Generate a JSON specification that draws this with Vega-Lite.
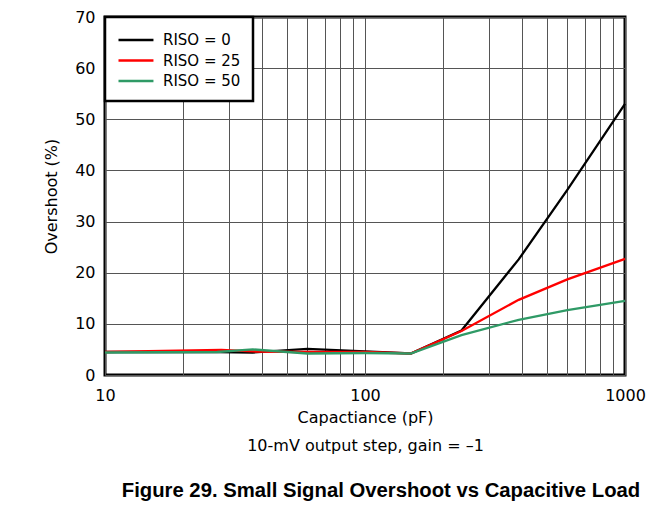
{
  "$schema": "https://vega.github.io/schema/vega-lite/v6.json",
  "width": 520,
  "height": 358,
  "autosize": {"type": "none"},
  "padding": {"left": 105, "top": 17, "right": 44, "bottom": 133},
  "background": "white",
  "config": {
    "font": "DejaVu Sans",
    "view": {"stroke": "black", "strokeWidth": 3}
  },
  "data": {
    "values": [
      {"C": 10, "V": 4.5, "s": "RISO = 0"},
      {"C": 27, "V": 4.5, "s": "RISO = 0"},
      {"C": 37, "V": 4.4, "s": "RISO = 0"},
      {"C": 60, "V": 5.1, "s": "RISO = 0"},
      {"C": 100, "V": 4.6, "s": "RISO = 0"},
      {"C": 150, "V": 4.2, "s": "RISO = 0"},
      {"C": 235, "V": 8.7, "s": "RISO = 0"},
      {"C": 390, "V": 22.6, "s": "RISO = 0"},
      {"C": 600, "V": 36.2, "s": "RISO = 0"},
      {"C": 1000, "V": 53, "s": "RISO = 0"},
      {"C": 10, "V": 4.5, "s": "RISO = 25"},
      {"C": 28, "V": 4.9, "s": "RISO = 25"},
      {"C": 37, "V": 4.6, "s": "RISO = 25"},
      {"C": 60, "V": 4.5, "s": "RISO = 25"},
      {"C": 100, "V": 4.5, "s": "RISO = 25"},
      {"C": 150, "V": 4.2, "s": "RISO = 25"},
      {"C": 235, "V": 8.6, "s": "RISO = 25"},
      {"C": 390, "V": 14.7, "s": "RISO = 25"},
      {"C": 600, "V": 18.7, "s": "RISO = 25"},
      {"C": 1000, "V": 22.7, "s": "RISO = 25"},
      {"C": 10, "V": 4.4, "s": "RISO = 50"},
      {"C": 27, "V": 4.5, "s": "RISO = 50"},
      {"C": 37, "V": 5.0, "s": "RISO = 50"},
      {"C": 60, "V": 4.2, "s": "RISO = 50"},
      {"C": 100, "V": 4.3, "s": "RISO = 50"},
      {"C": 150, "V": 4.2, "s": "RISO = 50"},
      {"C": 235, "V": 7.8, "s": "RISO = 50"},
      {"C": 390, "V": 10.8, "s": "RISO = 50"},
      {"C": 600, "V": 12.7, "s": "RISO = 50"},
      {"C": 1000, "V": 14.5, "s": "RISO = 50"}
    ]
  },
  "mark": {"type": "line", "strokeWidth": 2.3},
  "encoding": {
    "x": {
      "field": "C",
      "type": "quantitative",
      "scale": {"type": "log", "domain": [10, 1000]},
      "axis": {
        "title": ["Capactiance (pF)", "10-mV output step, gain = –1"],
        "values": [10, 20, 30, 40, 50, 60, 70, 80, 90, 100, 200, 300, 400, 500, 600, 700, 800, 900, 1000],
        "format": "d",
        "labelExpr": "(datum.value == 10 || datum.value == 100 || datum.value == 1000) ? datum.label : ''",
        "grid": true,
        "gridColor": "#555555",
        "gridOpacity": 1,
        "gridWidth": 1,
        "ticks": false,
        "domain": false,
        "labelOverlap": false,
        "labelFlush": false,
        "labelFontSize": 16,
        "labelColor": "black",
        "labelPadding": 12,
        "titleFontSize": 16,
        "titleFontWeight": "normal",
        "titleColor": "black",
        "titleLineHeight": 28,
        "titlePadding": 6
      }
    },
    "y": {
      "field": "V",
      "type": "quantitative",
      "scale": {"domain": [0, 70], "nice": false},
      "axis": {
        "title": "Overshoot (%)",
        "values": [0, 10, 20, 30, 40, 50, 60, 70],
        "grid": true,
        "gridColor": "#555555",
        "gridOpacity": 1,
        "gridWidth": 1,
        "ticks": false,
        "domain": false,
        "labelFlush": false,
        "labelFontSize": 16,
        "labelColor": "black",
        "labelPadding": 10,
        "titleFontSize": 16,
        "titleFontWeight": "normal",
        "titleColor": "black",
        "titlePadding": 15
      }
    },
    "color": {
      "field": "s",
      "type": "nominal",
      "scale": {
        "domain": ["RISO = 0", "RISO = 25", "RISO = 50"],
        "range": ["#000000", "#ff0000", "#2f9a66"]
      },
      "legend": {
        "title": null,
        "orient": "top-left",
        "offset": 0,
        "strokeColor": "black",
        "fillColor": "white",
        "padding": 12,
        "symbolType": "M-1,0H2.68",
        "symbolSize": 361,
        "symbolStrokeWidth": 2.5,
        "labelFont": "DejaVu Sans",
        "labelFontSize": 15,
        "labelColor": "black",
        "labelOffset": 24,
        "rowPadding": 1.5,
        "encode": {"legend": {"update": {"strokeWidth": {"value": 2.5}}}}
      }
    }
  },
  "title": {
    "text": "Figure 29. Small Signal Overshoot vs Capacitive Load",
    "orient": "bottom",
    "anchor": "middle",
    "offset": 28,
    "font": "Liberation Sans",
    "fontSize": 20.3,
    "fontWeight": "bold",
    "color": "black",
    "dx": 16
  }
}
